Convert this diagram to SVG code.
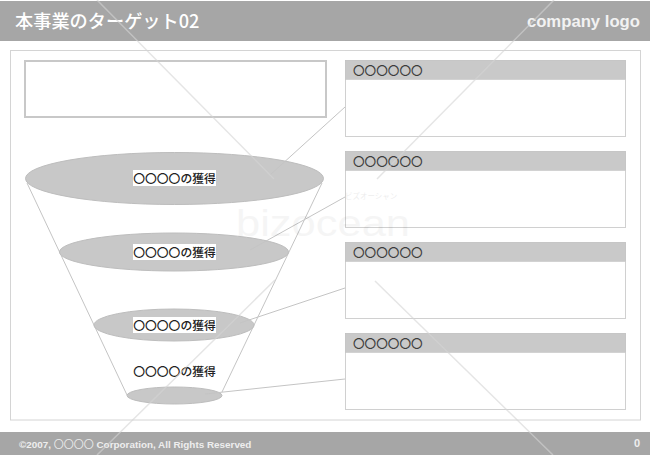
<svg xmlns="http://www.w3.org/2000/svg" width="650" height="455" viewBox="0 0 650 455">
<style>
text{font-family:"Liberation Sans","Noto Sans CJK JP",sans-serif}
.band{fill:#a6a6a6}
.ell{fill:#c8c8c8;stroke:#bdbdbd;stroke-width:1}
.ln{fill:none;stroke:#c4c4c4;stroke-width:1}
.box{fill:#fff;stroke:#d0d0d0;stroke-width:1}
.hd{fill:#c9c9c9;stroke:#c0c0c0;stroke-width:.5}
.ht{font-family:"Noto Sans CJK JP",sans-serif;font-size:11.6px;font-weight:500;fill:#3c3c3c}
.lb{font-family:"Noto Sans CJK JP",sans-serif;font-size:11.8px;font-weight:500;fill:#222;text-anchor:middle}
.wm{fill:none;stroke:#d4d4d4;stroke-width:1.5;opacity:.6}
</style>
<rect width="650" height="455" fill="#fff"/>
<g id="header"><rect class="band" y="1" width="650" height="40"/>
<text x="15" y="28" font-size="18.200" font-weight="500" fill="#fff" style="font-family:'Noto Sans CJK JP',sans-serif">本事業のターゲット02</text>
<text x="640" y="27" font-size="16.700" font-weight="700" fill="#f2f2f2" text-anchor="end">company logo</text></g>
<g id="footer"><rect class="band" y="432" width="650" height="23"/>
<text x="19" y="448" font-size="9.900" font-weight="700" fill="#eee">©2007, <tspan font-size="10" font-weight="400" style="font-family:'Noto Sans CJK JP',sans-serif">〇〇〇〇</tspan> Corporation, All Rights Reserved</text>
<text x="640" y="447" font-size="11" font-weight="700" fill="#eee" text-anchor="end">0</text></g>
<rect id="frame" x="10.500" y="50.500" width="630" height="369.500" fill="#fff" stroke="#d4d4d4"/>
<rect id="note" x="25" y="61" width="301" height="56" fill="#fff" stroke="#c8c8c8" stroke-width="2"/>
<g id="funnel-sides"><path class="ln" d="M27 183L127 395M322 183L222 392"/></g>
<g id="level1"><ellipse class="ell" cx="174.500" cy="178.500" rx="149" ry="26"/><rect x="133" y="170" width="83" height="16" fill="#fff"/><text class="lb" x="174.500" y="183">〇〇〇〇の獲得</text></g>
<g id="level2"><ellipse class="ell" cx="174" cy="252" rx="114.500" ry="19"/><rect x="133" y="244" width="83" height="16" fill="#fff"/><text class="lb" x="174.500" y="257">〇〇〇〇の獲得</text></g>
<g id="level3"><ellipse class="ell" cx="174" cy="325" rx="80" ry="16"/><rect x="133" y="317" width="83" height="16" fill="#fff"/><text class="lb" x="174.500" y="330">〇〇〇〇の獲得</text></g>
<g id="level4"><text class="lb" x="174.500" y="376">〇〇〇〇の獲得</text><ellipse class="ell" cx="174.500" cy="395.500" rx="47.500" ry="8.500"/></g>
<g id="connectors"><path class="ln" d="M270 175L345 107M250 250L345 197M240 323L345 288M205 394L345 379"/></g>
<g id="panel1"><rect class="box" x="345.500" y="60.500" width="280" height="76"/><rect class="hd" x="345.500" y="60.500" width="280" height="19"/><text class="ht" x="353" y="75">〇〇〇〇〇〇</text></g>
<g id="panel2"><rect class="box" x="345.500" y="151.500" width="280" height="76"/><rect class="hd" x="345.500" y="151.500" width="280" height="19"/><text class="ht" x="353" y="166">〇〇〇〇〇〇</text></g>
<g id="panel3"><rect class="box" x="345.500" y="242.500" width="280" height="76"/><rect class="hd" x="345.500" y="242.500" width="280" height="19"/><text class="ht" x="353" y="257">〇〇〇〇〇〇</text></g>
<g id="panel4"><rect class="box" x="345.500" y="333.500" width="280" height="76"/><rect class="hd" x="345.500" y="333.500" width="280" height="19"/><text class="ht" x="353" y="348">〇〇〇〇〇〇</text></g>
<g id="watermark"><path class="wm" d="M97 0L274 179M554 0L377 179M275 280L97 455M375 281L553 455"/>
<text x="236" y="236" font-size="37" textLength="174" lengthAdjust="spacingAndGlyphs" fill="#000" opacity=".035">bizocean</text>
<text x="345" y="199" font-size="7.500" fill="#000" opacity=".07" style="font-family:'Noto Sans CJK JP',sans-serif">ビズオーシャン</text></g>
</svg>
